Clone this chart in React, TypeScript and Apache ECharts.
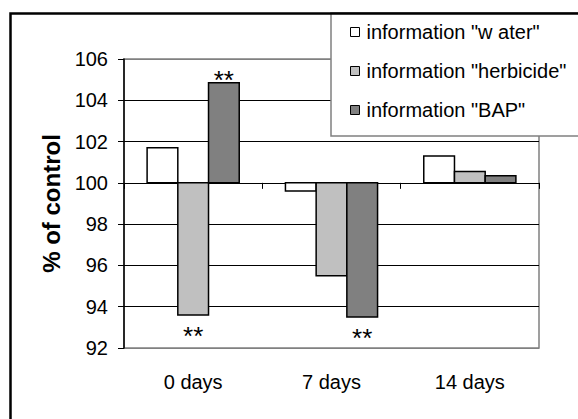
import React, { useEffect, useRef } from "react";
import * as echarts from "echarts";

const categories = ["0 days", "7 days", "14 days"];
const seriesNames = ['information "w ater"', 'information "herbicide"', 'information "BAP"'];
const waterValues = [101.7, 99.6, 101.3];
const herbicideValues = [93.6, 95.5, 100.55];
const bapValues = [104.85, 93.5, 100.35];
const waterMarks = ["", "", ""];
const herbicideMarks = ["**", "", ""];
const bapMarks = ["**", "**", ""];
const seriesColors = ["#ffffff", "#c0c0c0", "#808080"];
const yMin = 92;
const yMax = 106;
const yInterval = 2;
const baseline = 100;

const FONT = "'Liberation Sans', Arial, sans-serif";

export default function App() {
  const ref = useRef<HTMLDivElement>(null);
  useEffect(() => {
    if (!ref.current) return;
    const chart = echarts.init(ref.current, null, { renderer: "svg" });
    const allValues = [waterValues, herbicideValues, bapValues];
    const allMarks = [waterMarks, herbicideMarks, bapMarks];
    const gridTop = 59;
    const gridHeight = 289;
    const offset100 = -((baseline - yMin) / (yMax - yMin)) * gridHeight;

    const makeSeries = (idx: number) => ({
      type: "custom",
      name: seriesNames[idx],
      xAxisIndex: 0,
      yAxisIndex: 0,
      itemStyle: { color: seriesColors[idx], borderColor: "#000", borderWidth: 1 },
      encode: { x: 0, y: 1 },
      data: allValues[idx].map((v, i) => [i, v, allMarks[idx][i]]),
      renderItem: (params: any, api: any) => {
        const ci = api.value(0);
        const v = api.value(1);
        const p = api.coord([ci, v]);
        const b = api.coord([ci, baseline]);
        const band = api.size([1, 0])[0];
        const w = band * 0.222;
        const cx = p[0] + (idx - 1) * w;
        const top = Math.min(p[1], b[1]);
        const bottom = Math.max(p[1], b[1]);
        const mark = allMarks[idx][params.dataIndex];
        const children: any[] = [
          {
            type: "rect",
            shape: { x: cx - w / 2, y: top, width: w, height: bottom - top },
            style: { fill: seriesColors[idx], stroke: "#000", lineWidth: 1.5 },
          },
        ];
        if (mark) {
          children.push({
            type: "text",
            style: {
              text: mark,
              x: cx,
              y: v >= baseline ? top - 3 : bottom + 21,
              fill: "#000",
              fontSize: 26,
              fontFamily: FONT,
              align: "center",
              verticalAlign: "middle",
            },
          });
        }
        return { type: "group", children };
      },
      z: 2,
    });

    const splitColors = ["#808080", "#000", "#000", "#000", "#000", "#000", "#000", "#808080"];

    chart.setOption({
      animation: false,
      backgroundColor: "#fff",
      textStyle: { fontFamily: FONT },
      grid: {
        left: 124,
        top: gridTop,
        width: 415,
        height: gridHeight,
        show: true,
        borderColor: "#808080",
        borderWidth: 1.5,
        backgroundColor: "transparent",
      },
      legend: {
        orient: "vertical",
        left: 345,
        top: 17,
        itemWidth: 9,
        itemHeight: 9,
        itemGap: 19,
        icon: "rect",
        z: 5,
        textStyle: { fontSize: 20, fontFamily: FONT, color: "#000", padding: [0, 0, 0, 2] },
        itemStyle: { borderColor: "#000", borderWidth: 1 },
        data: seriesNames,
      },
      xAxis: [
        {
          type: "category",
          data: categories,
          position: "bottom",
          axisLine: { show: false },
          axisTick: { show: false },
          splitLine: { show: false },
          axisLabel: { fontSize: 20, fontFamily: FONT, color: "#000", margin: 24 },
        },
        {
          type: "category",
          data: categories,
          position: "bottom",
          offset: offset100,
          axisLine: { show: true, lineStyle: { color: "#000", width: 1 } },
          axisTick: { show: true, length: 6, lineStyle: { color: "#000" } },
          axisLabel: { show: false },
          splitLine: { show: false },
        },
      ],
      yAxis: {
        type: "value",
        min: yMin,
        max: yMax,
        interval: yInterval,
        name: "% of control",
        nameLocation: "middle",
        nameRotate: 90,
        nameGap: 57,
        nameTextStyle: { fontSize: 24, fontWeight: "bold", fontFamily: FONT, color: "#000" },
        axisLine: { show: true, lineStyle: { color: "#000", width: 1.5 } },
        axisTick: { show: true, length: 6, lineStyle: { color: "#000" } },
        axisLabel: { fontSize: 20, fontFamily: FONT, color: "#000", margin: 16 },
        splitLine: { show: true, lineStyle: { color: splitColors, width: 1 } },
      },
      graphic: [
        {
          type: "rect",
          z: 3,
          shape: { x: 331, y: 13, width: 300, height: 123 },
          style: { fill: "#fff", stroke: "#808080", lineWidth: 1.5 },
        },
        {
          type: "rect",
          z: 6,
          shape: { x: 10.5, y: 13.5, width: 620, height: 520 },
          style: { fill: "none", stroke: "#000", lineWidth: 2.5 },
        },
      ],
      series: [makeSeries(0), makeSeries(1), makeSeries(2)],
    });
    return () => chart.dispose();
  }, []);
  return (
    <div
      ref={ref}
      style={{ position: "fixed", left: 0, top: 0, width: 578, height: 419, background: "#fff" }}
    />
  );
}
